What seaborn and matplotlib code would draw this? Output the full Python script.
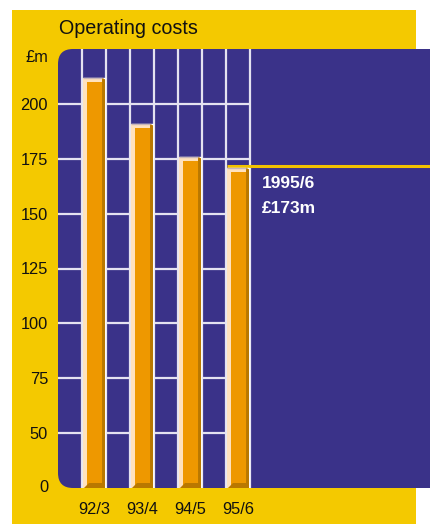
import numpy as np
import matplotlib
matplotlib.use("Agg")
import matplotlib.pyplot as plt
import seaborn as sns
from matplotlib.patches import Rectangle, Polygon, FancyBboxPatch
from matplotlib.transforms import IdentityTransform

# ---- data ----
periods = ["92/3", "93/4", "94/5", "95/6"]
costs = [212, 191, 176, 171]
ytick_values = [26, 50, 75, 100, 125, 150, 175, 200]
ytick_labels = ["0", "50", "75", "100", "125", "150", "175", "200"]
title = "Operating costs"
unit_label = "£m"
note_lines = ["1995/6", "£173m"]

# ---- colours ----
YELLOW = "#F4C900"
BLUE = "#3A3289"
ORANGE = "#EE9800"
PEACH = "#FFE2BE"
DARK = "#B97800"
GRID = "#E4E2F0"

sns.set_style("white")
plt.rcParams["font.family"] = ["Liberation Sans", "DejaVu Sans"]

W, H = 430, 524
fig = plt.figure(figsize=(W / 100, H / 100), dpi=100)
fig.patch.set_facecolor("white")

# yellow background
fig.add_artist(Rectangle((12, 0), 416 - 12, H - 10, transform=IdentityTransform(),
                         facecolor=YELLOW, edgecolor="none", zorder=-3))
# blue panel with rounded corners
fig.add_artist(FancyBboxPatch((58, H - 488), 470 - 58, 488 - 49,
                              boxstyle="round,pad=0,rounding_size=15",
                              transform=IdentityTransform(),
                              facecolor=BLUE, edgecolor="none", zorder=-2))

ax_l, ax_b, ax_r, ax_t = 58, H - 488, W, H - 49
ax = fig.add_axes([ax_l / W, ax_b / H, (ax_r - ax_l) / W, (ax_t - ax_b) / H])
ax.set_facecolor("none")
for s in ax.spines.values():
    s.set_visible(False)

sns.barplot(x=periods, y=costs, color=ORANGE, saturation=1, width=0.46,
            ax=ax, zorder=3)

n = len(periods)
ax.set_xlim(-0.75, 7.0)
ax.set_ylim(25, 225)

# grid lines (only over the bar area)
grid_x = np.arange(2 * n) * 0.5 - 0.25
ax.vlines(grid_x, 25, 225, color=GRID, lw=1.6, zorder=1)
ax.hlines(ytick_values[1:], -0.75, grid_x[-1], color=GRID, lw=1.6, zorder=1)

# pixel sizes in data units
px = (7.0 + 0.75) / (ax_r - ax_l)
py = (225 - 25) / (ax_t - ax_b)
y0 = ax.get_ylim()[0]

bars = list(ax.patches)
for p in bars:
    x0 = p.get_x()
    w = p.get_width()
    h = p.get_height()
    x1 = x0 + w
    # left highlight
    ax.add_patch(Rectangle((x0, y0), 4 * px, h - y0, facecolor=PEACH,
                           edgecolor="none", zorder=4))
    # right shade with bevel
    ax.add_patch(Polygon([(x1 - 3 * px, y0), (x1, y0), (x1, h - 2 * py),
                          (x1 - 3 * px, h)], closed=True, facecolor=DARK,
                         edgecolor="none", zorder=4))
    # top cap
    ax.add_patch(Polygon([(x0, h - 4 * py), (x0, h), (x1 - 3 * px, h),
                          (x1 - 3 * px, h - 4 * py)], closed=True,
                         facecolor=PEACH, edgecolor="none", zorder=5))
    ax.plot([x0, x1 - 3 * px], [h - 0.5 * py, h - 0.5 * py], color="#C9B7B8",
            lw=1.0, zorder=6, solid_capstyle="butt")
    # base shadow
    ax.add_patch(Polygon([(x0 + 1 * px, y0), (x1, y0), (x1, y0 + 5 * py),
                          (x0 + 6 * px, y0 + 5 * py)], closed=True,
                         facecolor=DARK, edgecolor="none", zorder=4))

# highlight line for latest year
last = bars[-1]
ax.hlines(last.get_height() + 1.5 * py, last.get_x(), 7.0, color="#F2C200",
          lw=2.2, zorder=2.5)

ax.text(3.5, 163.5, note_lines[0], color="white", fontweight="bold",
        fontsize=12.5, ha="left", va="center", zorder=7)
ax.text(3.5, 152.5, note_lines[1], color="white", fontweight="bold",
        fontsize=12.5, ha="left", va="center", zorder=7)

ax.set_yticks(ytick_values)
ax.set_yticklabels(ytick_labels)
ax.tick_params(axis="y", length=0, pad=7.2, labelsize=11.8, labelcolor="#111111")
ax.tick_params(axis="x", length=0, pad=10, labelsize=11.8, labelcolor="#111111")
ax.set_xlabel("")
ax.set_ylabel("")

fig.text(48 / W, 1 - 57.5 / H, unit_label, ha="right", va="center",
         fontsize=11.8, color="#111111")
fig.text(59 / W, 1 - 28.5 / H, title, ha="left", va="center",
         fontsize=14.2, color="#111111")

fig.savefig("out.png", dpi=100)
